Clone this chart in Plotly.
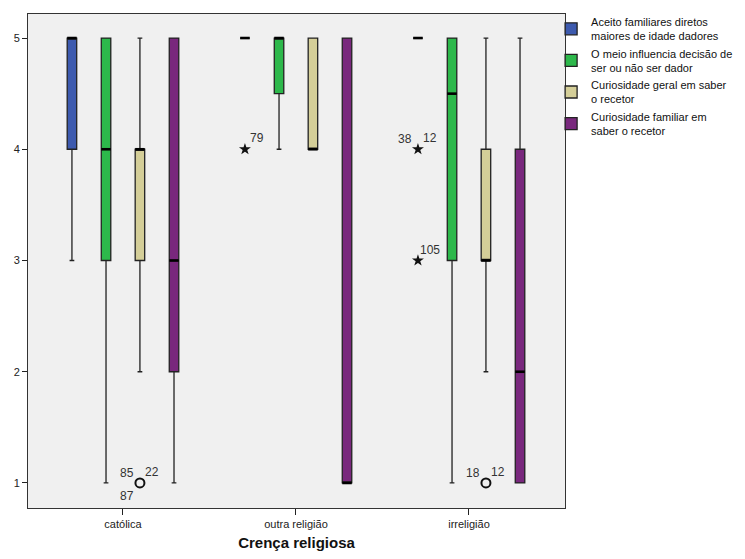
import plotly.graph_objects as go

# ---------------- data ----------------
categories = ["católica", "outra religião", "irreligião"]
series_names = [
    "Aceito familiares diretos<br>maiores de idade dadores",
    "O meio influencia decisão de<br>ser ou não ser dador",
    "Curiosidade geral em saber<br>o recetor",
    "Curiosidade familiar em<br>saber o recetor",
]
aceito_q1 = [4, 5, 5]
aceito_med = [5, 5, 5]
aceito_q3 = [5, 5, 5]
aceito_lo = [3, 5, 5]
aceito_hi = [5, 5, 5]

meio_q1 = [3, 4.5, 3]
meio_med = [4, 5, 4.5]
meio_q3 = [5, 5, 5]
meio_lo = [1, 4, 1]
meio_hi = [5, 5, 5]

geral_q1 = [3, 4, 3]
geral_med = [4, 4, 3]
geral_q3 = [4, 5, 4]
geral_lo = [2, 4, 2]
geral_hi = [5, 5, 5]

familiar_q1 = [2, 1, 1]
familiar_med = [3, 1, 2]
familiar_q3 = [5, 5, 4]
familiar_lo = [1, 1, 1]
familiar_hi = [5, 5, 5]

# outliers: series index, category index, value, kind, case labels
outlier_series = [2, 0, 0, 0, 2]
outlier_category = [0, 1, 2, 2, 2]
outlier_value = [1, 4, 4, 3, 1]
outlier_kind = ["circle", "star", "star", "star", "circle"]
outlier_labels = [["85", "22", "87"], ["79"], ["38", "12"], ["105"], ["18", "12"]]

y_ticks = [1, 2, 3, 4, 5]
x_title = "Crença religiosa"

# ---------------- style ----------------
colors = ["#3D5AAE", "#2DB84B", "#D4CE98", "#79287D"]
offsets = [-0.295, -0.098, 0.098, 0.295]
box_width = 0.055
label_places = [["ul", "ur", "ll"], ["ur"], ["ul", "ur"], ["ur"], ["ul", "ur"]]
place_shift = {"ul": (-13, 10), "ur": (12, 11), "ll": (-13, -13)}
font_family = "Liberation Sans, Arial, sans-serif"

stats = [
    (aceito_q1, aceito_med, aceito_q3, aceito_lo, aceito_hi),
    (meio_q1, meio_med, meio_q3, meio_lo, meio_hi),
    (geral_q1, geral_med, geral_q3, geral_lo, geral_hi),
    (familiar_q1, familiar_med, familiar_q3, familiar_lo, familiar_hi),
]

fig = go.Figure()
for i, (name, (q1, med, q3, lo, hi)) in enumerate(zip(series_names, stats)):
    xs = [c + offsets[i] for c in range(len(categories))]
    fig.add_trace(go.Box(
        x=xs, q1=q1, median=med, q3=q3, lowerfence=lo, upperfence=hi,
        name=name, width=box_width, fillcolor=colors[i],
        line=dict(color="#222", width=1.3), whiskerwidth=0.5,
        boxpoints=False, hoverinfo="skip",
    ))

# thicker median strokes (SPSS style)
mx, my = [], []
for i, (q1, med, q3, lo, hi) in enumerate(stats):
    for c, m in enumerate(med):
        x = c + offsets[i]
        mx += [x - box_width / 2, x + box_width / 2, None]
        my += [m, m, None]
fig.add_trace(go.Scatter(x=mx, y=my, mode="lines", showlegend=False, hoverinfo="skip",
                         line=dict(color="#000", width=2.6)))

annotations = []
for s, c, v, k, labs, places in zip(outlier_series, outlier_category, outlier_value,
                                    outlier_kind, outlier_labels, label_places):
    x = c + offsets[s]
    sym = "circle-open" if k == "circle" else "star"
    fig.add_trace(go.Scatter(
        x=[x], y=[v], mode="markers", showlegend=False, hoverinfo="skip",
        marker=dict(symbol=sym, size=9 if k == "circle" else 9, color="#111",
                    line=dict(width=2 if k == "circle" else 0, color="#111")),
    ))
    for lab, p in zip(labs, places):
        dx, dy = place_shift[p]
        annotations.append(dict(
            x=x, y=v, xref="x", yref="y", text=lab, showarrow=False,
            xshift=dx, yshift=dy, font=dict(size=12, color="#333", family=font_family),
        ))

fig.update_layout(
    width=729, height=543,
    margin=dict(l=20, r=172, t=6, b=43, autoexpand=False),
    paper_bgcolor="white", plot_bgcolor="#F0F0F0",
    font=dict(family=font_family, size=11, color="#222"),
    showlegend=True,
    legend=dict(xref="container", yref="container", x=0.745, xanchor="left",
                y=1.003, yanchor="top",
                bgcolor="rgba(0,0,0,0)", font=dict(size=11, color="#111"),
                tracegroupgap=0, itemwidth=30),
    annotations=annotations,
    boxmode="overlay",
)
fig.update_xaxes(
    range=[-0.549, 2.555], tickvals=list(range(len(categories))), ticktext=categories,
    ticks="outside", ticklen=6, tickcolor="#222", showgrid=False, zeroline=False,
    showline=True, linecolor="#333", linewidth=1, mirror=True, automargin=False,
    tickfont=dict(size=11, color="#222"),
    title=dict(text=x_title, font=dict(size=15, color="#111", weight="bold"), standoff=10),
)
fig.update_yaxes(
    range=[0.775, 5.216], tickvals=y_ticks, ticks="outside", ticklen=5, tickcolor="#222",
    showgrid=False, zeroline=False, showline=True, linecolor="#333", linewidth=1,
    mirror=True, automargin=False, tickfont=dict(size=11, color="#222"),
)

fig.write_html("out.html")
